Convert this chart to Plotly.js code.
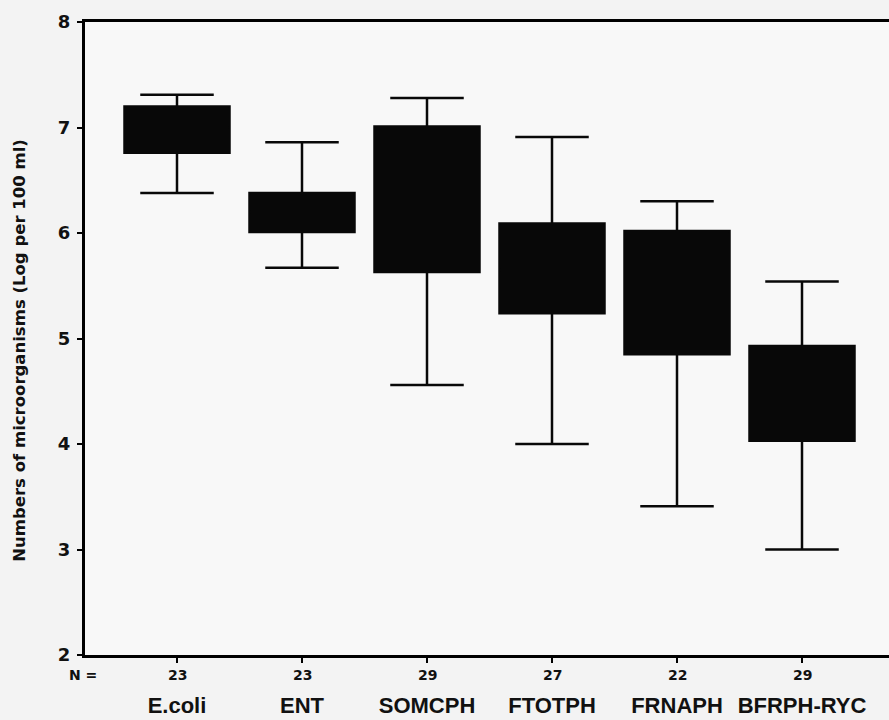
<!DOCTYPE html>
<html>
<head>
<meta charset="utf-8">
<script src="https://cdn.plot.ly/plotly-3.0.1.min.js"></script>
<style>html,body{margin:0;padding:0;background:#f3f3f3;}#chart{width:889px;height:720px;}</style>
</head>
<body>
<div id="chart"></div>
<script>
const categories = ["E.coli", "ENT", "SOMCPH", "FTOTPH", "FRNAPH", "BFRPH-RYC"];
const nCounts = ["23", "23", "29", "27", "22", "29"];
const lowerWhisker = [6.38, 5.67, 4.56, 4.00, 3.41, 3.00];
const q1Values = [6.76, 6.01, 5.63, 5.24, 4.85, 4.03];
const medianValues = [7.00, 6.20, 6.30, 5.65, 5.40, 4.50];
const q3Values = [7.20, 6.38, 7.01, 6.09, 6.02, 4.93];
const upperWhisker = [7.31, 6.86, 7.28, 6.91, 6.30, 5.54];
const yTicks = [2, 3, 4, 5, 6, 7, 8];
const yTitle = "Numbers of microorganisms (Log per 100 ml)";

const idx = categories.map((c, i) => i);
const FONT = "Liberation Sans, Arial, sans-serif";
const WIDE = "DejaVu Sans, sans-serif";

const trace = {
  type: "box",
  x: idx,
  q1: q1Values,
  median: medianValues,
  q3: q3Values,
  lowerfence: lowerWhisker,
  upperfence: upperWhisker,
  width: 0.84,
  whiskerwidth: 0.7,
  fillcolor: "#080808",
  line: {color: "#080808", width: 2.5},
  hoverinfo: "skip",
  showlegend: false
};

const annotations = nCounts.map((n, i) => ({
  xref: "x", yref: "paper", x: i, y: -0.0316, yanchor: "middle",
  text: n, showarrow: false,
  font: {family: WIDE, size: 14, weight: "bold", color: "#111"}
}));
annotations.push({
  xref: "paper", yref: "paper", x: -0.022, y: -0.0316, yanchor: "middle",
  text: "N =", showarrow: false,
  font: {family: WIDE, size: 14, weight: "bold", color: "#111"}
});
annotations.push({
  xref: "paper", yref: "paper", x: -0.081, y: 0.482,
  xanchor: "center", yanchor: "middle", textangle: -90,
  text: yTitle, showarrow: false,
  font: {family: WIDE, size: 16.5, weight: "bold", color: "#111"}
});

const layout = {
  width: 889, height: 720,
  margin: {l: 85, r: 0, t: 22, b: 65},
  paper_bgcolor: "#f3f3f3",
  plot_bgcolor: "#f8f8f8",
  font: {family: FONT, color: "#111"},
  xaxis: {
    range: [-0.736, 5.696],
    tickvals: idx,
    ticktext: categories,
    tickfont: {family: FONT, size: 22, weight: "bold", color: "#111"},
    ticks: "outside", ticklen: 5, tickwidth: 2, tickcolor: "#000",
    ticklabelstandoff: 24,
    showline: true, linecolor: "#000", linewidth: 3, mirror: true,
    showgrid: false, zeroline: false, fixedrange: true
  },
  yaxis: {
    range: [2, 8],
    tickvals: yTicks,
    tickfont: {family: WIDE, size: 18, weight: "bold", color: "#111"},
    ticks: "outside", ticklen: 5, tickwidth: 2, tickcolor: "#000",
    ticklabelstandoff: 3,
    showline: true, linecolor: "#000", linewidth: 3,
    showgrid: false, zeroline: false, fixedrange: true
  },
  annotations: annotations
};

Plotly.newPlot("chart", [trace], layout, {displayModeBar: false, staticPlot: true});
</script>
</body>
</html>
